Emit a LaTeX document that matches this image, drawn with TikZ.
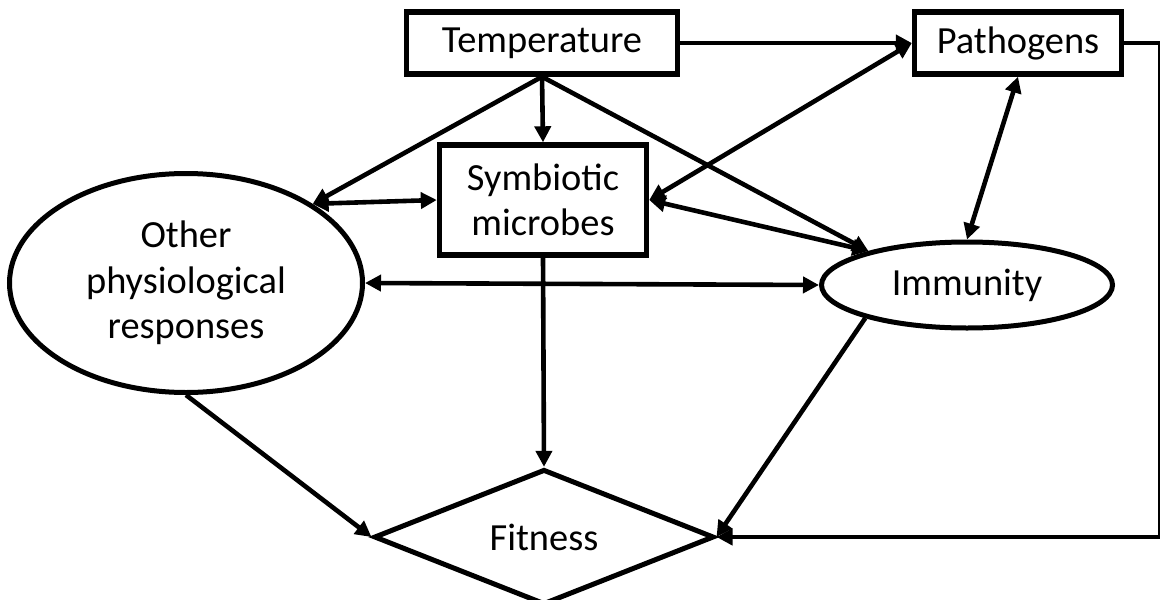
\documentclass[tikz,border=0pt]{standalone}
\usepackage{fontspec}
\setmainfont{Carlito}
\usetikzlibrary{shapes.geometric,arrows.meta}
\begin{document}
\begin{tikzpicture}[x=0.5pt,y=-0.5pt,
  every node/.style={font=\fontsize{19.2pt}{22.8pt}\selectfont,align=center,inner sep=0pt},
  box/.style={draw,line width=2.7pt,rectangle},
  oval/.style={draw,line width=2.5pt,ellipse},
  diam/.style={draw,line width=2.5pt,diamond},
  arr/.style={line width=2.3pt,-{Triangle[length=8pt,width=8pt]}},
  twoarr/.style={line width=2.3pt,{Triangle[length=8pt,width=8pt]}-{Triangle[length=8pt,width=8pt]}}]
\useasboundingbox (0,0) rectangle (1160,599);
% nodes
\node[box,minimum width=135.5pt,minimum height=31pt] (temp) at (542,43) {Temperature};
\node[box,minimum width=103.5pt,minimum height=31pt] (path) at (1018,43) {Pathogens};
\node[box,minimum width=103.5pt,minimum height=55pt] (sym) at (543,200) {Symbiotic\\microbes};
\node[oval,minimum width=176.5pt,minimum height=109.5pt] (other) at (186,283) {Other\\physiological\\responses};
\node[oval,minimum width=145.5pt,minimum height=43pt] (imm) at (967,285) {Immunity};
\node[diam,minimum width=170pt,minimum height=61pt] (fit) at (544,537) {Fitness};
% from temperature
\draw[arr] (temp.east) -- (path.west);
\draw[arr] (temp.south) -- (sym.north);
\draw[arr] (temp.south) -- (other.32);
\draw[arr] (temp.south) -- (imm.161);
% two way links
\draw[twoarr] (other.32) -- (sym.west);
\draw[twoarr] (path.west) -- (sym.east);
\draw[twoarr] (sym.east) -- (imm.161);
\draw[twoarr] (path.south) -- (imm.north);
\draw[twoarr] (other.east) -- (imm.west);
% into fitness
\draw[arr] (sym.south) -- (fit.north);
\draw[arr] (other.south) -- (fit.west);
\draw[arr] (imm.198) -- (fit.east);
\draw[arr] (path.east) -- ++(36,0) |- (fit.east);
\end{tikzpicture}
\end{document}
